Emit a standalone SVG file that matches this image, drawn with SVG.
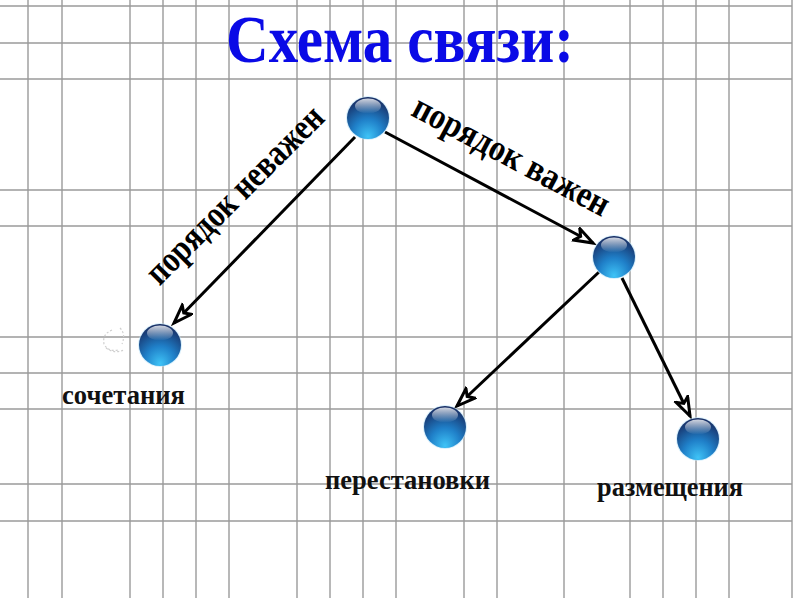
<svg xmlns="http://www.w3.org/2000/svg" xmlns:xlink="http://www.w3.org/1999/xlink" width="800" height="600" viewBox="0 0 800 600">
<style>
.grid line{stroke:#9a9a9a;stroke-width:1.4}
.conn{stroke:#000;stroke-width:3;fill:none;marker-end:url(#arr)}
.title{font-family:"Liberation Serif","DejaVu Serif",serif;font-weight:bold;font-size:68px;fill:#0a0ae6}
.rot{font-family:"Liberation Serif","DejaVu Serif",serif;font-weight:bold;font-size:37px;fill:#000}
.lbl{font-family:"Liberation Serif","DejaVu Serif",serif;font-weight:bold;font-size:27px;fill:#111}
</style>
<defs>
<radialGradient id="sph" cx="0.5" cy="0.8" r="0.8" fx="0.5" fy="0.95">
<stop offset="0" stop-color="#3fc4f7"/>
<stop offset="0.45" stop-color="#1f7fc8"/>
<stop offset="1" stop-color="#172a60"/>
</radialGradient>
<linearGradient id="hl" x1="0" y1="0" x2="0" y2="1">
<stop offset="0" stop-color="#fff" stop-opacity="0.8"/>
<stop offset="1" stop-color="#fff" stop-opacity="0"/>
</linearGradient>
<g id="ball">
<circle r="22" fill="#bfe6fa" opacity="0.6"/>
<circle r="21" fill="url(#sph)"/>
<ellipse cx="0" cy="-12" rx="13" ry="7.5" fill="url(#hl)"/>
</g>
<marker id="arr" markerUnits="userSpaceOnUse" markerWidth="26" markerHeight="18" refX="20" refY="8" orient="auto">
<path d="M1.5,1.5 L20,8 L1.5,14.5 L6,8 z" fill="#fff" stroke="#000" stroke-width="3" stroke-linejoin="miter"/>
</marker>
</defs>
<rect width="800" height="600" fill="#fff"/>
<g class="grid">
<line x1="0" y1="6" x2="792" y2="6"/>
<line x1="0" y1="43" x2="792" y2="43"/>
<line x1="0" y1="79" x2="792" y2="79"/>
<line x1="0" y1="190" x2="792" y2="190"/>
<line x1="0" y1="226" x2="792" y2="226"/>
<line x1="0" y1="337" x2="792" y2="337"/>
<line x1="0" y1="373" x2="792" y2="373"/>
<line x1="0" y1="409" x2="792" y2="409"/>
<line x1="0" y1="484" x2="792" y2="484"/>
<line x1="0" y1="521" x2="792" y2="521"/>
<line x1="28" y1="0" x2="28" y2="598"/>
<line x1="62" y1="0" x2="62" y2="598"/>
<line x1="130" y1="0" x2="130" y2="598"/>
<line x1="163" y1="0" x2="163" y2="598"/>
<line x1="196" y1="0" x2="196" y2="598"/>
<line x1="229" y1="0" x2="229" y2="598"/>
<line x1="297" y1="0" x2="297" y2="598"/>
<line x1="330" y1="0" x2="330" y2="598"/>
<line x1="363" y1="0" x2="363" y2="598"/>
<line x1="396" y1="0" x2="396" y2="598"/>
<line x1="464" y1="0" x2="464" y2="598"/>
<line x1="497" y1="0" x2="497" y2="598"/>
<line x1="564" y1="0" x2="564" y2="598"/>
<line x1="630" y1="0" x2="630" y2="598"/>
<line x1="663" y1="0" x2="663" y2="598"/>
<line x1="696" y1="0" x2="696" y2="598"/>
<line x1="729" y1="0" x2="729" y2="598"/>
<line x1="792" y1="0" x2="792" y2="598"/>
</g>
<text class="title" x="226" y="62" textLength="348" lengthAdjust="spacingAndGlyphs">Схема связи:</text>
<text class="rot" transform="translate(243,203) rotate(-45)" text-anchor="middle" textLength="236" lengthAdjust="spacingAndGlyphs">порядок неважен</text>
<text class="rot" transform="translate(506,166) rotate(28)" text-anchor="middle" textLength="218" lengthAdjust="spacingAndGlyphs">порядок важен</text>
<g id="connectors">
<line class="conn" x1="355" y1="137" x2="174" y2="323"/>
<line class="conn" x1="385" y1="132" x2="593" y2="243"/>
<line class="conn" x1="599" y1="272" x2="457" y2="406"/>
<line class="conn" x1="622" y1="278" x2="690" y2="416"/>
</g>
<g id="node-root"><use xlink:href="#ball" x="368" y="118"/></g>
<g id="node-order"><use xlink:href="#ball" x="614" y="257"/></g>
<g id="node-combinations">
<path d="M112,330 q-10,4 -8,14 q4,8 14,6 M120,328 q6,6 2,16 M106,348 q8,6 18,2" fill="none" stroke="#cfcfcf" stroke-width="1.2" stroke-dasharray="2,2"/>
<use xlink:href="#ball" x="160" y="345"/>
<text class="lbl" x="62" y="404" textLength="123" lengthAdjust="spacingAndGlyphs">сочетания</text>
</g>
<g id="node-permutations">
<use xlink:href="#ball" x="445" y="427"/>
<text class="lbl" x="325" y="489" textLength="165" lengthAdjust="spacingAndGlyphs">перестановки</text>
</g>
<g id="node-arrangements">
<use xlink:href="#ball" x="698" y="439"/>
<text class="lbl" x="597" y="496" textLength="146" lengthAdjust="spacingAndGlyphs">размещения</text>
</g>
</svg>
